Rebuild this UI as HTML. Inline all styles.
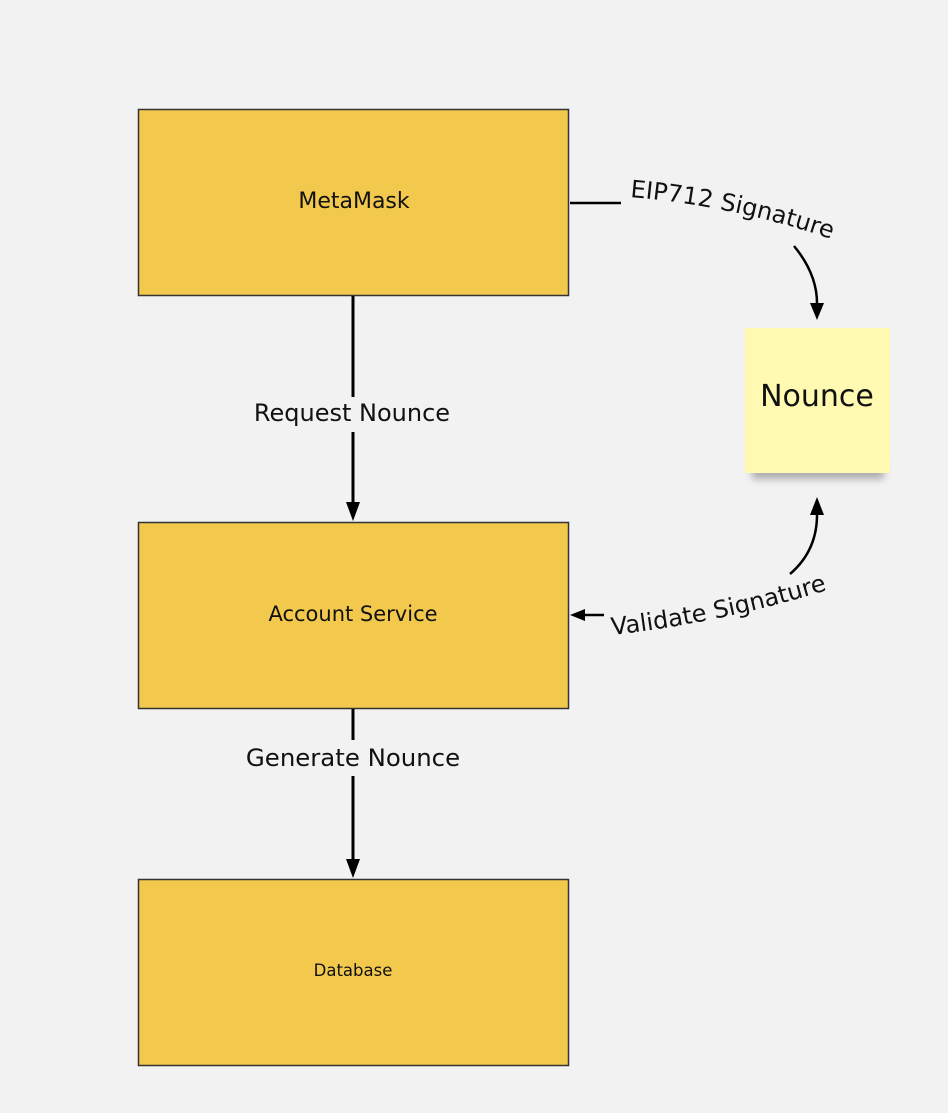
<!DOCTYPE html>
<html><head><meta charset="utf-8"><style>
html,body{margin:0;padding:0;background:#f2f2f2;}
svg{display:block;}
text{font-family:"DejaVu Sans","Liberation Sans",sans-serif;fill:#111;}
</style></head><body>
<svg width="948" height="1113" viewBox="0 0 948 1113" xmlns="http://www.w3.org/2000/svg">
<defs>
<filter id="sh" x="-20%" y="-20%" width="140%" height="160%"><feGaussianBlur stdDeviation="4"/></filter>
<path id="p1" d="M630,197 Q738,206 840,242"/>
<path id="p2" d="M612,635 Q728,622 840,586"/>
</defs>
<rect width="948" height="1113" fill="#f2f2f2"/>
<rect x="138.5" y="109.5" width="430" height="186" fill="#f2c94c" stroke="#333" stroke-width="1.5"/>
<rect x="138.5" y="522.5" width="430" height="186" fill="#f2c94c" stroke="#333" stroke-width="1.5"/>
<rect x="138.5" y="879.5" width="430" height="186" fill="#f2c94c" stroke="#333" stroke-width="1.5"/>
<text x="354" y="208" font-size="22" text-anchor="middle">MetaMask</text>
<text x="353" y="621" font-size="21" text-anchor="middle">Account Service</text>
<text x="353" y="976" font-size="16.5" text-anchor="middle">Database</text>
<line x1="353" y1="296" x2="353" y2="397" stroke="#000" stroke-width="3"/>
<line x1="353" y1="432" x2="353" y2="505" stroke="#000" stroke-width="3"/>
<polygon points="346,502 360,502 353,521" fill="#000"/>
<text x="352" y="421" font-size="24" text-anchor="middle">Request Nounce</text>
<line x1="353" y1="709" x2="353" y2="740" stroke="#000" stroke-width="3"/>
<line x1="353" y1="776" x2="353" y2="862" stroke="#000" stroke-width="3"/>
<polygon points="346,859 360,859 353,878" fill="#000"/>
<text x="353" y="766" font-size="24.4" text-anchor="middle">Generate Nounce</text>
<rect x="752" y="455" width="132" height="24" fill="#555" opacity="0.45" filter="url(#sh)"/>
<rect x="745" y="328" width="145" height="145" fill="#fff9b1"/>
<text x="817" y="406" font-size="30" text-anchor="middle" fill="#222">Nounce</text>
<line x1="570" y1="203" x2="621" y2="203" stroke="#000" stroke-width="2.5"/>
<text font-size="24"><textPath href="#p1">EIP712 Signature</textPath></text>
<path d="M794,246 Q818,275 817,306" fill="none" stroke="#000" stroke-width="2.5"/>
<polygon points="810,303 824,303 817,320" fill="#000"/>
<line x1="582" y1="615" x2="604" y2="615" stroke="#000" stroke-width="2.5"/>
<polygon points="570,615 585,609 585,621" fill="#000"/>
<text font-size="24"><textPath href="#p2">Validate Signature</textPath></text>
<path d="M790,574 Q818,550 817,512" fill="none" stroke="#000" stroke-width="2.5"/>
<polygon points="810,515 824,515 817,497" fill="#000"/>
</svg>
</body></html>
